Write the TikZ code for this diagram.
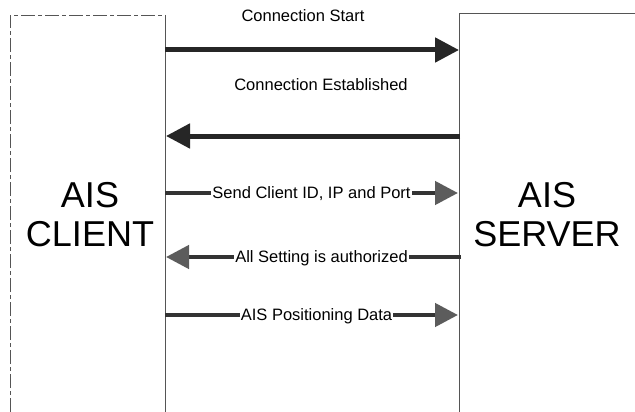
\documentclass[tikz,border=0pt]{standalone}
\usepackage{fontspec}
\setmainfont{Liberation Sans}
\usetikzlibrary{arrows.meta}
\definecolor{shaft}{HTML}{262626}
\definecolor{lshaft}{HTML}{333333}
\definecolor{lhead}{HTML}{5C5C5C}
\definecolor{frame}{HTML}{555555}
\begin{document}
\begin{tikzpicture}[x=1pt,y=-1pt,
  framedash/.style={draw=frame,line width=0.8pt,dash pattern=on 14pt off 3pt on 4pt off 3pt},
  lifeline/.style={draw=frame,line width=0.8pt},
  bigmsg/.style={draw=shaft,line width=5pt,-{Triangle[length=24pt,width=24pt,fill=shaft]}},
  smallmsg/.style={draw=lshaft,line width=4.5pt,-{Triangle[length=23pt,width=23pt,color=lhead]}},
  msglabel/.style={font=\fontsize{16.5}{19}\selectfont,inner sep=0pt,anchor=base},
  midlabel/.style={msglabel,fill=white,inner xsep=1pt,inner ysep=0pt},
  party/.style={font=\fontsize{36}{39}\selectfont,align=center,inner sep=0pt}
]
\useasboundingbox (0,0) rectangle (635,412);
\fill[white] (0,0) rectangle (635,412);
% lifeline frames
\coordinate (clo) at (10,412);
\coordinate (clt) at (10,15);
\coordinate (crt) at (165,15);
\coordinate (crb) at (165,412);
\coordinate (slb) at (459,412);
\coordinate (slt) at (459,13);
\coordinate (srt) at (635,13);
\draw[framedash] (clo) -- (clt) -- (crt);
\draw[lifeline] (crt) -- (crb);
\draw[lifeline] (slb) -- (slt) -- (srt);
% party labels
\node[party] (client) at (90,214.5) {AIS\\CLIENT};
\node[party] (server) at (547,214.5) {AIS\\SERVER};
% message anchors
\coordinate (c1) at (165,50);  \coordinate (s1) at (459,50);
\coordinate (c2) at (166,136); \coordinate (s2) at (460,136);
\coordinate (c3) at (165,193); \coordinate (s3) at (458,193);
\coordinate (c4) at (166,257); \coordinate (s4) at (461,257);
\coordinate (c5) at (165,315); \coordinate (s5) at (458,315);
% messages
\draw[bigmsg] (c1) -- (s1);
\node[msglabel] (l1) at (303,22) {Connection Start};
\draw[bigmsg] (s2) -- (c2);
\node[msglabel] (l2) at (321,90.5) {Connection Established};
\draw[smallmsg] (c3) -- (s3);
\node[midlabel] (l3) at (311.5,198.5) {Send Client ID, IP and Port};
\draw[smallmsg] (s4) -- (c4);
\node[midlabel] (l4) at (321.5,262.5) {All Setting is authorized};
\draw[smallmsg] (c5) -- (s5);
\node[midlabel] (l5) at (316.5,320.5) {AIS Positioning Data};
\end{tikzpicture}
\end{document}
